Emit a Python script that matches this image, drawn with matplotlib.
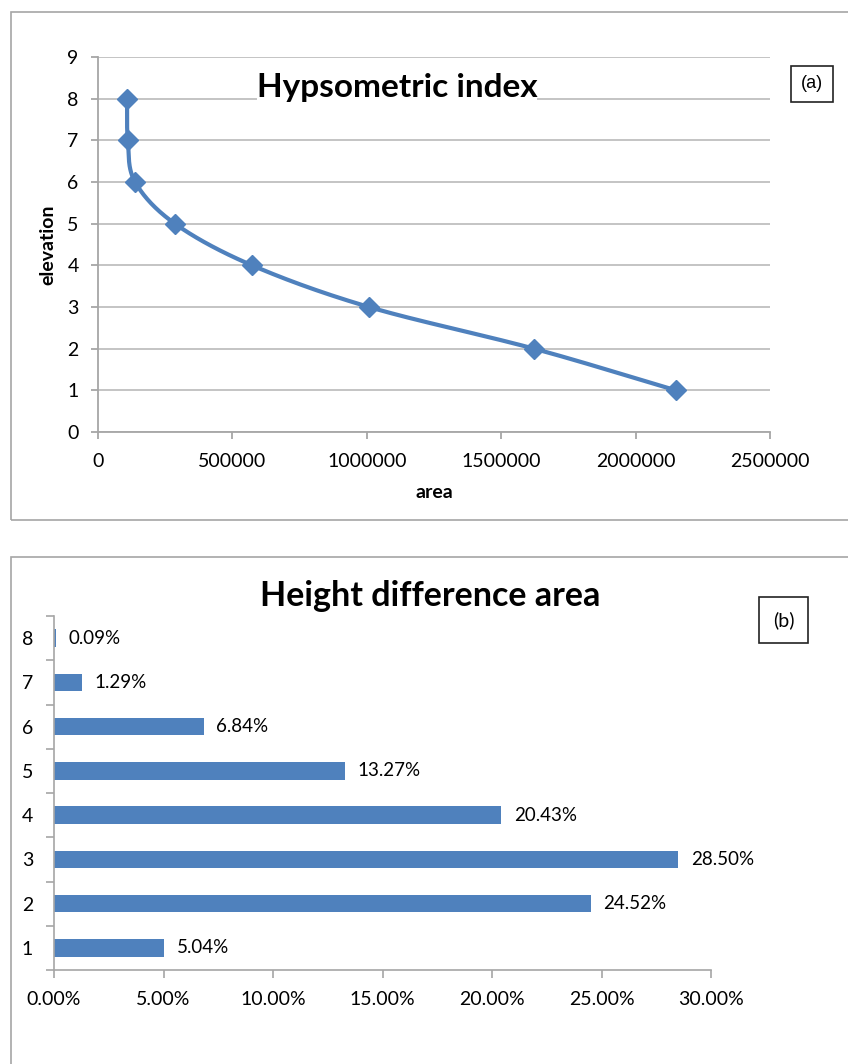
import numpy as np
import matplotlib
matplotlib.use("Agg")
import matplotlib.pyplot as plt
from matplotlib.patches import Rectangle
from matplotlib.ticker import FuncFormatter

# ---- data ----
elevation = [8, 7, 6, 5, 4, 3, 2, 1]
area = [108000, 111000, 138000, 286000, 573000, 1008000, 1622000, 2150000]

height_classes = [1, 2, 3, 4, 5, 6, 7, 8]
area_share = [5.04, 24.52, 28.50, 20.43, 13.27, 6.84, 1.29, 0.09]

x_ticks_a = [0, 500000, 1000000, 1500000, 2000000, 2500000]
y_ticks_a = list(range(0, 10))
x_ticks_b = [0, 5, 10, 15, 20, 25, 30]

BLUE = "#4F81BD"
GRID = "#BFBFBF"
AXC = "#A6A6A6"
FONT = ["Lato", "DejaVu Sans"]

W, H = 848, 1064
fig = plt.figure(figsize=(W / 100, H / 100), dpi=100)
plt.rcParams["font.family"] = FONT


def fx(px):
    return px / W


def fy(py):
    return 1 - py / H


# panel borders
fig.patches.append(Rectangle((fx(11), fy(520)), fx(900 - 11), fy(12) - fy(520),
                             transform=fig.transFigure, fill=False,
                             edgecolor="#A6A6A6", lw=1.2))
fig.patches.append(Rectangle((fx(11), fy(1100)), fx(900 - 11), fy(557) - fy(1100),
                             transform=fig.transFigure, fill=False,
                             edgecolor="#A6A6A6", lw=1.2))

# ---- panel (a) ----
axa = fig.add_axes([fx(98), fy(432), fx(770) - fx(98), fy(57) - fy(432)])
axa.set_xlim(0, 2500000)
axa.set_ylim(0, 9)
axa.set_xticks(x_ticks_a)
axa.set_yticks(y_ticks_a)
axa.xaxis.set_major_formatter(FuncFormatter(lambda v, p: f"{int(v)}"))
axa.grid(axis="y", color=GRID, lw=1.3)
axa.set_axisbelow(True)
for s in ["top", "right"]:
    axa.spines[s].set_visible(False)
for s in ["left", "bottom"]:
    axa.spines[s].set_color(AXC)
    axa.spines[s].set_linewidth(1.3)
axa.tick_params(axis="both", colors=AXC, length=5, width=1.3, labelsize=14,
                labelcolor="black")
axa.tick_params(axis="x", pad=10)
axa.tick_params(axis="y", pad=9)

# smoothed line (Catmull-Rom in display space, like a spreadsheet smoothed line)
pts = axa.transData.transform(np.column_stack([area, elevation]))
ext = np.vstack([2 * pts[0] - pts[1], pts, 2 * pts[-1] - pts[-2]])
curve = []
t = np.linspace(0, 1, 40)[:, None]
for i in range(1, len(ext) - 2):
    p0, p1, p2, p3 = ext[i - 1], ext[i], ext[i + 1], ext[i + 2]
    seg = 0.5 * ((2 * p1) + (-p0 + p2) * t + (2 * p0 - 5 * p1 + 4 * p2 - p3) * t ** 2
                 + (-p0 + 3 * p1 - 3 * p2 + p3) * t ** 3)
    curve.append(seg)
curve = axa.transData.inverted().transform(np.vstack(curve))
axa.plot(curve[:, 0], curve[:, 1], color=BLUE, lw=3.0, solid_capstyle="round")
axa.plot(area, elevation, ls="none", marker="D", ms=10, color=BLUE)

axa.set_xlabel("area", fontsize=14, fontweight="bold", labelpad=10)
axa.set_ylabel("elevation", fontsize=14, fontweight="bold", labelpad=8)
axa.text(fx(397), fy(87), "Hypsometric index", transform=fig.transFigure,
         ha="center", va="center", fontsize=24, fontweight="bold",
         bbox=dict(facecolor="white", edgecolor="none", pad=0))
fig.text(fx(812), fy(84), "(a)", ha="center", va="center", fontsize=13,
         family=["Liberation Sans", "DejaVu Sans"],
         bbox=dict(facecolor="white", edgecolor="#222222", lw=1.2,
                   boxstyle="square,pad=0.55"))

# ---- panel (b) ----
axb = fig.add_axes([fx(54), fy(970), fx(711) - fx(54), fy(616) - fy(970)])
bars = axb.barh(height_classes, area_share, height=0.4, color=BLUE)
axb.set_xlim(0, 30)
axb.set_ylim(0.5, 8.5)
axb.set_xticks(x_ticks_b)
axb.xaxis.set_major_formatter(FuncFormatter(lambda v, p: f"{v:.2f}%"))
axb.set_yticks(height_classes)
axb.set_yticks(np.arange(0.5, 9.0, 1.0), minor=True)
axb.tick_params(axis="y", which="major", length=0, pad=15, labelsize=14)
axb.tick_params(axis="y", which="minor", length=6, width=1.2, colors=AXC)
axb.tick_params(axis="x", length=6, width=1.2, colors=AXC, labelcolor="black",
                labelsize=14, pad=9)
for s in ["top", "right"]:
    axb.spines[s].set_visible(False)
for s in ["left", "bottom"]:
    axb.spines[s].set_color(AXC)
    axb.spines[s].set_linewidth(1.2)
axb.bar_label(bars, labels=[f"{v:.2f}%" for v in area_share], padding=9,
              fontsize=13.5)
fig.text(fx(430), fy(596), "Height difference area", ha="center", va="center",
         fontsize=24.5, fontweight="bold")
fig.text(fx(783.5), fy(620), "(b)", ha="center", va="center", fontsize=14,
         bbox=dict(facecolor="white", edgecolor="#222222", lw=1.2,
                   boxstyle="square,pad=0.7"))

fig.savefig("out.png", dpi=100, facecolor="white")
